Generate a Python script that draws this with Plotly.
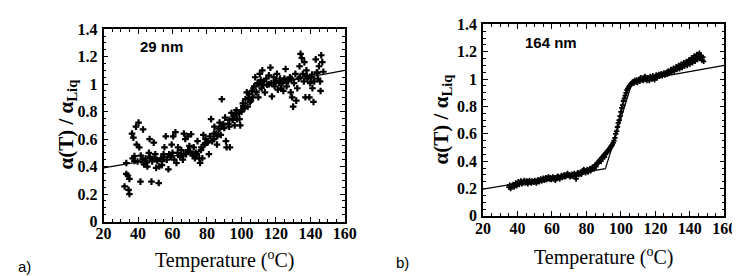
import plotly.graph_objects as go

# ---- panel a) 29 nm ----
temp_a = [32.2, 33.2, 34.1, 35.0, 34.5, 35.0, 33.2, 36.5, 37.3, 38.8, 40.3, 39.2, 40.7, 41.4, 42.9,
          36.9, 37.9, 39.7, 41.6, 42.6, 43.5, 44.4, 45.4, 46.3, 46.7, 47.8, 48.2, 49.1, 50.0, 50.5,
          51.2, 52.0, 52.3, 53.3, 53.8, 54.8, 55.3, 56.1, 56.7, 57.6, 58.0, 59.1, 59.5, 60.4, 61.0,
          61.7, 62.3, 63.2, 64.2, 65.1, 66.0, 66.6, 67.4, 67.9, 68.9, 69.8, 70.8, 71.7, 72.3, 73.0,
          74.1, 74.5, 75.5, 76.0, 76.8, 77.3, 77.9, 78.6, 79.2, 80.2, 81.1, 81.7, 82.4, 83.0, 83.9,
          84.3, 85.4, 85.8, 86.7, 87.3, 88.0, 88.6, 89.5, 90.5, 91.0, 91.4, 92.4, 92.9, 93.3, 94.2,
          94.8, 95.6, 96.1, 97.1, 97.4, 98.6, 98.9, 99.3, 99.9, 100.8, 101.8, 102.3, 103.1, 103.6, 104.6,
          105.0, 106.1, 106.5, 107.4, 108.0, 108.7, 109.3, 109.8, 110.6, 111.2, 111.7, 112.1, 113.0, 113.6, 114.4,
          114.9, 115.9, 116.8, 117.4, 117.7, 118.7, 119.2, 120.0, 120.6, 121.1, 121.9, 122.4, 123.0, 123.8, 124.3,
          124.9, 125.6, 126.2, 127.1, 128.1, 128.6, 129.4, 130.0, 130.5, 131.3, 131.8, 132.4, 133.2, 133.7, 134.3,
          135.0, 135.6, 136.2, 136.5, 137.1, 137.7, 138.4, 139.4, 139.9, 140.7, 141.2, 141.8, 142.2, 143.1, 143.7,
          144.4, 145.0, 145.6, 146.3, 146.9, 145.9,
          38.0, 43.0, 47.0, 51.0, 55.0, 58.5, 63.0, 66.5, 70.0, 73.5, 79.0, 84.0, 88.5, 93.0, 96.5,
          101.0, 104.0, 107.0, 110.0, 116.0, 119.0, 122.5, 126.5, 129.0, 134.0, 138.0, 141.0, 144.0, 147.5,
          45.0, 49.5, 54.0, 60.0, 64.5, 69.0, 72.5, 76.5, 80.5, 86.0, 90.0, 95.0, 100.0, 105.5, 112.5]
ratio_a = [0.255, 0.346, 0.335, 0.31, 0.23, 0.20, 0.426, 0.64, 0.61, 0.69, 0.72, 0.56, 0.54, 0.29, 0.67,
           0.46, 0.476, 0.437, 0.48, 0.45, 0.415, 0.46, 0.40, 0.50, 0.60, 0.29, 0.437, 0.574, 0.49, 0.39,
           0.44, 0.28, 0.40, 0.46, 0.41, 0.49, 0.54, 0.62, 0.45, 0.38, 0.49, 0.47, 0.56, 0.62, 0.45,
           0.65, 0.426, 0.54, 0.48, 0.52, 0.45, 0.64, 0.60, 0.49, 0.62, 0.55, 0.635, 0.48, 0.54, 0.46,
           0.49, 0.585, 0.46, 0.426, 0.54, 0.46, 0.63, 0.56, 0.60, 0.574, 0.49, 0.62, 0.745, 0.585, 0.60,
           0.69, 0.64, 0.56, 0.675, 0.72, 0.63, 0.89, 0.71, 0.756, 0.585, 0.54, 0.71, 0.69, 0.54, 0.79,
           0.745, 0.77, 0.70, 0.81, 0.745, 0.79, 0.745, 0.70, 0.81, 0.86, 0.825, 0.89, 0.94, 0.836, 0.927,
           0.87, 0.95, 0.904, 0.984, 1.05, 0.94, 1.007, 0.904, 1.075, 1.03, 0.97, 1.10, 1.02, 0.94, 1.04,
           0.995, 1.064, 1.12, 1.007, 0.91, 1.05, 0.984, 1.02, 1.075, 0.96, 1.007, 1.04, 0.97, 1.007, 0.95,
           1.04, 1.11, 0.984, 1.02, 1.05, 0.94, 0.904, 0.836, 1.007, 1.075, 0.88, 0.97, 1.04, 1.13, 1.22,
           1.19, 1.075, 1.02, 1.16, 0.904, 1.10, 1.04, 0.904, 1.007, 1.05, 0.97, 0.87, 1.02, 1.18, 1.086,
           1.04, 1.13, 1.02, 1.21, 1.16, 0.95,
           0.44, 0.43, 0.47, 0.45, 0.47, 0.48, 0.50, 0.49, 0.51, 0.50, 0.57, 0.64, 0.69, 0.74, 0.78,
           0.84, 0.90, 0.97, 1.00, 1.00, 1.01, 1.02, 1.03, 1.04, 1.05, 1.06, 1.07, 1.08, 1.09,
           0.43, 0.46, 0.44, 0.50, 0.47, 0.52, 0.49, 0.52, 0.58, 0.62, 0.68, 0.74, 0.80, 0.88, 0.99]

fit_temp_a = [20, 76, 113, 160]
fit_ratio_a = [0.39, 0.51, 0.99, 1.10]

# ---- panel b) 164 nm ----
temp_b = [35.0, 35.5, 36.0, 36.5, 37.0, 37.5, 38.0, 38.5, 39.0, 39.5, 40.0, 40.5, 41.0, 41.5, 42.0,
          42.5, 43.0, 43.5, 44.0, 44.5, 45.0, 45.5, 46.0, 46.5, 47.0, 47.5, 48.0, 48.5, 49.0, 49.5,
          50.0, 50.5, 51.0, 51.5, 52.0, 52.5, 53.0, 53.5, 54.0, 54.5, 55.0, 55.5, 56.0, 56.5, 57.0,
          57.5, 58.0, 58.5, 59.0, 59.5, 60.0, 60.5, 61.0, 61.5, 62.0, 62.5, 63.0, 63.5, 64.0, 64.5,
          65.0, 65.5, 66.0, 66.5, 67.0, 67.5, 68.0, 68.5, 69.0, 69.5, 70.0, 70.5, 71.0, 71.5, 72.0,
          72.5, 73.0, 73.5, 74.0, 74.5, 75.0, 75.5, 76.0, 76.5, 77.0, 77.5, 78.0, 78.5, 79.0, 79.5,
          80.0, 80.5, 81.0, 81.5, 82.0, 82.5, 83.0, 83.5, 84.0, 84.5, 85.0, 85.5, 86.0, 86.5, 87.0,
          87.5, 88.0, 88.5, 89.0, 89.5, 90.0, 90.5, 91.0, 91.5, 92.0, 92.5, 93.0, 93.5, 94.0, 94.5,
          95.0, 95.5, 96.0, 96.5, 97.0, 97.5, 98.0, 98.5, 99.0, 99.5, 100.0, 100.5, 101.0, 101.5, 102.0,
          102.5, 103.0, 103.5, 104.0, 104.5, 105.0, 105.5, 106.0, 106.5, 107.0, 107.5, 108.0, 108.5, 109.0, 109.5,
          110.0, 110.5, 111.0, 111.5, 112.0, 112.5, 113.0, 113.5, 114.0, 114.5, 115.0, 115.5, 116.0, 116.5, 117.0,
          117.5, 118.0, 118.5, 119.0, 119.5, 120.0, 120.5, 121.0, 121.5, 122.0, 122.5, 123.0, 123.5, 124.0, 124.5,
          125.0, 125.5, 126.0, 126.5, 127.0, 127.5, 128.0, 128.5, 129.0, 129.5, 130.0, 130.5, 131.0, 131.5, 132.0,
          132.5, 133.0, 133.5, 134.0, 134.5, 135.0, 135.5, 136.0, 136.5, 137.0, 137.5, 138.0, 138.5, 139.0, 139.5,
          140.0, 140.5, 141.0, 141.5, 142.0, 142.5, 143.0, 143.5, 144.0, 144.5, 145.0, 145.5, 146.0, 146.5, 147.0,
          147.5, 148.0]
ratio_b = [0.21, 0.225, 0.20, 0.215, 0.22, 0.23, 0.21, 0.225, 0.24, 0.22, 0.235, 0.25, 0.23, 0.245, 0.255,
           0.235, 0.24, 0.25, 0.26, 0.24, 0.245, 0.255, 0.235, 0.25, 0.26, 0.245, 0.24, 0.255, 0.25, 0.245,
           0.26, 0.25, 0.24, 0.255, 0.265, 0.25, 0.26, 0.27, 0.255, 0.265, 0.275, 0.26, 0.27, 0.28, 0.265,
           0.275, 0.285, 0.27, 0.28, 0.265, 0.275, 0.285, 0.27, 0.28, 0.26, 0.275, 0.285, 0.29, 0.28, 0.27,
           0.285, 0.295, 0.28, 0.29, 0.30, 0.285, 0.29, 0.30, 0.31, 0.295, 0.30, 0.285, 0.295, 0.305, 0.29,
           0.30, 0.31, 0.295, 0.27, 0.305, 0.315, 0.30, 0.31, 0.32, 0.305, 0.315, 0.33, 0.34, 0.325, 0.315,
           0.33, 0.34, 0.32, 0.335, 0.345, 0.33, 0.34, 0.355, 0.36, 0.345, 0.37, 0.36, 0.38, 0.385, 0.39,
           0.40, 0.41, 0.40, 0.42, 0.43, 0.44, 0.43, 0.45, 0.46, 0.47, 0.475, 0.48, 0.49, 0.50, 0.51,
           0.52, 0.535, 0.55, 0.57, 0.60, 0.62, 0.65, 0.68, 0.70, 0.73, 0.76, 0.79, 0.81, 0.84, 0.86,
           0.88, 0.90, 0.92, 0.93, 0.94, 0.95, 0.96, 0.965, 0.975, 0.98, 0.97, 0.99, 0.98, 0.995, 0.975,
           0.99, 1.00, 0.985, 1.01, 0.995, 1.005, 0.99, 1.01, 1.02, 1.00, 0.99, 1.01, 1.005, 0.99, 1.02,
           1.01, 1.00, 1.025, 1.01, 0.995, 1.02, 1.03, 1.01, 1.025, 1.035, 1.02, 1.03, 1.04, 1.025, 1.035,
           1.045, 1.03, 1.04, 1.05, 1.035, 1.06, 1.045, 1.055, 1.07, 1.05, 1.065, 1.08, 1.06, 1.075, 1.09,
           1.07, 1.085, 1.10, 1.075, 1.09, 1.11, 1.085, 1.10, 1.12, 1.095, 1.11, 1.13, 1.10, 1.12, 1.14,
           1.11, 1.13, 1.155, 1.12, 1.14, 1.17, 1.13, 1.15, 1.18, 1.145, 1.16, 1.19, 1.15, 1.17, 1.14,
           1.16, 1.13]

fit_temp_b = [20, 91, 106.6, 160]
fit_ratio_b = [0.195, 0.345, 0.98, 1.10]
fit2_temp_b = [84, 96]
fit2_ratio_b = [0.37, 0.55]

x_ticks = [20, 40, 60, 80, 100, 120, 140, 160]
y_ticks = [0, 0.2, 0.4, 0.6, 0.8, 1.0, 1.2, 1.4]

fig = go.Figure()
fig.add_trace(go.Scatter(x=temp_a, y=ratio_a, mode="markers",
                         marker=dict(symbol="cross", color="black", size=5.5, line=dict(width=0)),
                         xaxis="x", yaxis="y"))
fig.add_trace(go.Scatter(x=fit_temp_a, y=fit_ratio_a, mode="lines", line=dict(color="black", width=1.2),
                         xaxis="x", yaxis="y"))
fig.add_trace(go.Scatter(x=temp_b, y=ratio_b, mode="markers",
                         marker=dict(symbol="cross", color="black", size=4.5, line=dict(width=0)),
                         xaxis="x2", yaxis="y2"))
fig.add_trace(go.Scatter(x=fit_temp_b, y=fit_ratio_b, mode="lines", line=dict(color="black", width=1.2),
                         xaxis="x2", yaxis="y2"))
fig.add_trace(go.Scatter(x=fit2_temp_b, y=fit2_ratio_b, mode="lines", line=dict(color="black", width=1.2),
                         xaxis="x2", yaxis="y2"))

tickfont = dict(family="Liberation Serif", size=16, color="black", weight="bold")
common = dict(showline=True, linecolor="black", linewidth=1.5, mirror="ticks", ticks="inside",
              ticklen=5, tickwidth=1.2, tickcolor="black", showgrid=False, zeroline=False,
              tickfont=tickfont)
xcommon = dict(common, range=[20, 160], tickvals=x_ticks, ticklabelstandoff=-3,
               minor=dict(ticks="inside", ticklen=3, dtick=5, tickcolor="black", tickwidth=1))
ycommon = dict(common, range=[0, 1.4], tickvals=y_ticks, ticktext=[f"{v:g}" for v in y_ticks],
               ticklabelstandoff=1,
               minor=dict(ticks="inside", ticklen=3, dtick=0.05, tickcolor="black", tickwidth=1))

fig.update_layout(
    width=740, height=276, margin=dict(l=0, r=0, t=0, b=0),
    paper_bgcolor="white", plot_bgcolor="white", showlegend=False,
    xaxis=dict(xcommon, domain=[90 / 740, 338 / 740], anchor="y"),
    yaxis=dict(ycommon, domain=[(276 - 219) / 276, (276 - 14) / 276], anchor="x"),
    xaxis2=dict(xcommon, domain=[480 / 740, 728 / 740], anchor="y2"),
    yaxis2=dict(ycommon, domain=[(276 - 213) / 276, (276 - 9) / 276], anchor="x2"),
)

serif = "Liberation Serif"
sans = "Liberation Sans"
ann = [
    dict(x=214 / 740, y=1 - 260 / 276, text="Temperature (<sup>o</sup>C)",
         font=dict(family=serif, size=20, color="black")),
    dict(x=604 / 740, y=1 - 256 / 276, text="Temperature (<sup>o</sup>C)",
         font=dict(family=serif, size=20, color="black")),
    dict(x=52 / 740, y=1 - 115 / 276, text="α(T) / α<sub>Liq</sub>", textangle=-90,
         font=dict(family=serif, size=21, color="black", weight="bold")),
    dict(x=438 / 740, y=1 - 110 / 276, text="α(T) / α<sub>Liq</sub>", textangle=-90,
         font=dict(family=serif, size=21, color="black", weight="bold")),
    dict(x=150 / 740, y=1 - 33 / 276, text="29 nm",
         font=dict(family=sans, size=15, color="black", weight="bold")),
    dict(x=550 / 740, y=1 - 28 / 276, text="164 nm",
         font=dict(family=sans, size=15, color="black", weight="bold")),
    dict(x=9 / 740, y=1 - 267 / 276, text="a)", font=dict(family=sans, size=15, color="black")),
    dict(x=397 / 740, y=1 - 263 / 276, text="b)", font=dict(family=sans, size=15, color="black")),
]
for a in ann:
    a.update(xref="paper", yref="paper", showarrow=False, xanchor="center", yanchor="middle")
fig.update_layout(annotations=ann)

fig.write_html("out.html")
